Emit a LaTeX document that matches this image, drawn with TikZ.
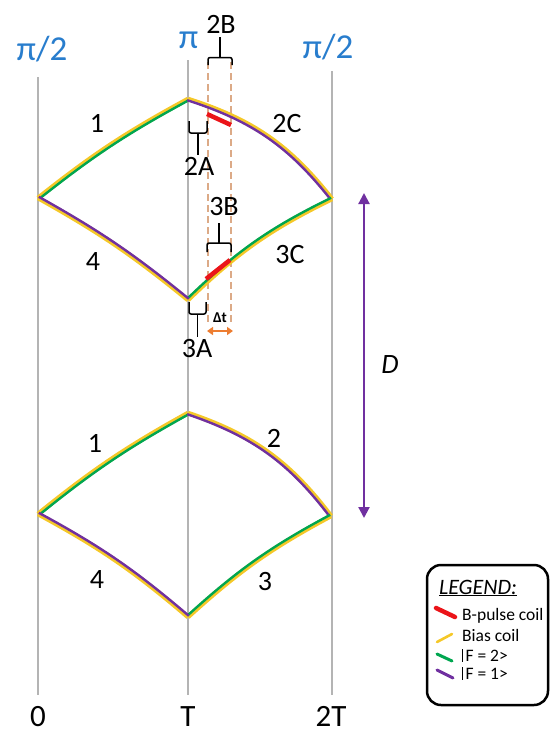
\documentclass[tikz,border=0pt]{standalone}
\usepackage{fontspec}
\setmainfont{Carlito}
\usetikzlibrary{arrows.meta,calc}
\definecolor{ylw}{RGB}{245,200,40}
\definecolor{grn}{RGB}{0,166,80}
\definecolor{prp}{RGB}{112,48,160}
\definecolor{rd}{RGB}{235,20,25}
\definecolor{blu}{RGB}{40,125,205}
\definecolor{tan}{RGB}{220,170,135}
\definecolor{org}{RGB}{237,125,49}
\definecolor{gry}{RGB}{180,180,180}
\newcommand{\kbar}{\rule[-0.03em]{0.07em}{0.72em}\kern0.12em}
\tikzset{
  axis/.style={draw=gry,line width=1.8pt},
  yl/.style={draw=ylw,line width=4.6pt},
  gl/.style={draw=grn,line width=2.4pt},
  pl/.style={draw=prp,line width=2.4pt},
  redseg/.style={draw=rd,line width=4.5pt},
  dsh/.style={draw=tan,line width=2pt,dash pattern=on 7pt off 4pt},
  brk/.style={draw=black,line width=1.5pt,rounded corners=2pt},
  lbl/.style={font=\fontsize{28}{30}\selectfont,anchor=base,inner sep=0pt},
  axl/.style={font=\fontsize{31}{33}\selectfont,anchor=base,inner sep=0pt},
  phl/.style={font=\fontsize{35}{37}\selectfont,text=blu,anchor=base,inner sep=0pt},
  lgt/.style={font=\fontsize{17.5}{19}\selectfont,anchor=base west,inner sep=0pt},
  lgs/.style={line width=4pt,line cap=round},
}
\begin{document}
\begin{tikzpicture}[x=1pt,y=1pt]
\useasboundingbox (0,0) rectangle (552,-734);
% axes
\coordinate (a0t) at (38,-77);  \coordinate (a0b) at (38,-695);
\coordinate (a1t) at (188,-60); \coordinate (a1b) at (188,-695);
\coordinate (a2t) at (332,-71); \coordinate (a2b) at (332,-695);
\draw[axis] (a0t) -- (a0b);
\draw[axis] (a1t) -- (a1b);
\draw[axis] (a2t) -- (a2b);
% dashed guides
\coordinate (d1t) at (208,-62); \coordinate (d1b) at (208,-322);
\coordinate (d2t) at (231,-62); \coordinate (d2b) at (231,-322);
\draw[dsh] (d1t) -- (d1b);
\draw[dsh] (d2t) -- (d2b);
% top diamond
\coordinate (uL) at (38,-198);  \coordinate (uT) at (188,-99);
\coordinate (uR) at (332,-199); \coordinate (uB) at (188,-300);
\draw[yl] (uL) to[bend left=5] (uT);
\draw[gl,transform canvas={shift={(0.8,-1.2)}}] (uL) to[bend left=5] (uT);
\draw[yl] (uT) to[bend left=17] (uR);
\draw[pl,transform canvas={shift={(-0.8,-1.2)}}] (uT) to[bend left=17] (uR);
\draw[yl] (uB) to[bend left=9] (uR);
\draw[gl,transform canvas={shift={(-0.8,1.2)}}] (uB) to[bend left=9] (uR);
\draw[yl] (uL) to[bend left=5] (uB);
\draw[pl,transform canvas={shift={(0.8,1.2)}}] (uL) to[bend left=5] (uB);
% bottom diamond
\coordinate (lL) at (38,-514);  \coordinate (lT) at (188,-413);
\coordinate (lR) at (331,-516); \coordinate (lB) at (188,-617);
\draw[yl] (lL) to[bend left=5] (lT);
\draw[gl,transform canvas={shift={(0.8,-1.2)}}] (lL) to[bend left=5] (lT);
\draw[yl] (lT) to[bend left=17] (lR);
\draw[pl,transform canvas={shift={(-0.8,-1.2)}}] (lT) to[bend left=17] (lR);
\draw[yl] (lB) to[bend left=7] (lR);
\draw[gl,transform canvas={shift={(-0.8,1.2)}}] (lB) to[bend left=7] (lR);
\draw[yl] (lL) to[bend left=6] (lB);
\draw[pl,transform canvas={shift={(0.8,1.2)}}] (lL) to[bend left=6] (lB);
% red B-pulse segments
\coordinate (r1a) at (207,-114); \coordinate (r1b) at (231,-125);
\coordinate (r2a) at (206,-279); \coordinate (r2b) at (230,-260);
\draw[redseg] (r1a) -- (r1b);
\draw[redseg] (r2a) -- (r2b);
% brackets
\draw[brk] (208,-65) -- (208,-57.5) -- (232,-57.5) -- (232,-65);
\draw[brk] (220,-57.5) -- (220,-37);
\draw[brk] (189,-121) -- (189,-133) -- (207,-133) -- (207,-121);
\draw[brk] (198,-133) -- (198,-155);
\draw[brk] (207,-252) -- (207,-243) -- (231,-243) -- (231,-252);
\draw[brk] (219,-243) -- (219,-223);
\draw[brk] (189,-302) -- (189,-314) -- (206,-314) -- (206,-302);
\draw[brk] (197.5,-314) -- (197.5,-337);
% delta t
\node[font=\fontsize{15}{17}\selectfont\bfseries,inner sep=0pt] (dt) at (220,-318) {Δt};
\coordinate (o1) at (207,-331); \coordinate (o2) at (233,-331);
\draw[draw=org,line width=1.8pt,{Triangle[length=6pt,width=8pt]}-{Triangle[length=6pt,width=8pt]}] (o1) -- (o2);
% D arrow
\coordinate (Dt) at (364,-193); \coordinate (Db) at (364,-518);
\draw[draw=prp,line width=2.2pt,{Triangle[length=11pt,width=11pt]}-{Triangle[length=11pt,width=11pt]}] (Dt) -- (Db);
\node[lbl,font=\fontsize{28}{30}\selectfont\itshape] (D) at (390,-373) {D};
% phase labels
\node[phl] (p1) at (42,-60) {π/2};
\node[phl] (p2) at (188.5,-48) {π};
\node[phl] (p3) at (328,-58) {π/2};
% upper labels
\node[lbl] (u1) at (97,-132) {1};
\node[lbl] (u2c) at (287,-132) {2C};
\node[lbl] (u2a) at (199,-175) {2A};
\node[lbl] (u2b) at (221,-33) {2B};
\node[lbl] (u3b) at (224,-215) {3B};
\node[lbl] (u3a) at (197,-357) {3A};
\node[lbl] (u4) at (93,-270) {4};
\node[lbl] (u3c) at (290,-263) {3C};
% lower labels
\node[lbl] (l1) at (95,-452) {1};
\node[lbl] (l2) at (274,-447) {2};
\node[lbl] (l4) at (97,-588) {4};
\node[lbl] (l3) at (265,-590) {3};
% time axis labels
\node[axl] (t0) at (38,-726) {0};
\node[axl] (t1) at (188,-726) {T};
\node[axl] (t2) at (331,-726) {2T};
% legend
\draw[line width=2.5pt,rounded corners=14pt] (427,-565) rectangle (548,-705);
\node[font=\fontsize{22}{24}\selectfont\itshape,anchor=base,inner sep=0pt] (lg) at (478,-594) {\underline{LEGEND:}};
\draw[lgs,draw=rd,line width=4.5pt] (436,-608) -- (455,-617);
\draw[lgs,draw=ylw,line width=2.6pt] (437,-642) -- (452,-634);
\draw[lgs,draw=grn,line width=3pt] (437,-654) -- (452,-661);
\draw[lgs,draw=prp,line width=3pt] (437,-670) -- (453,-678);
\node[lgt] (lg1) at (462,-620) {B-pulse coil};
\node[lgt] (lg2) at (462,-641) {Bias coil};
\node[lgt] (lg3) at (462,-661) {\kbar F = 2>};
\node[lgt] (lg4) at (462,-679) {\kbar F = 1>};
\end{tikzpicture}
\end{document}
